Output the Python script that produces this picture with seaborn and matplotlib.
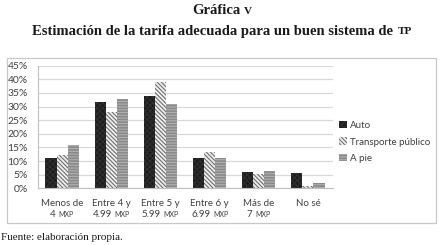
import matplotlib
matplotlib.use("Agg")
import matplotlib.pyplot as plt
import seaborn as sns
import pandas as pd
from matplotlib.patches import Rectangle
from matplotlib.offsetbox import TextArea, HPacker, VPacker, AnnotationBbox
from matplotlib.ticker import PercentFormatter, FixedLocator

# ---- data ----
cat_line1 = ["Menos de", "Entre 4 y", "Entre 5 y", "Entre 6 y", "Más de", "No sé"]
cat_line2 = ["4", "4.99", "5.99", "6.99", "7", ""]
series = ["Auto", "Transporte público", "A pie"]
auto = [0.110, 0.315, 0.340, 0.111, 0.060, 0.055]
transporte = [0.124, 0.280, 0.391, 0.134, 0.052, 0.009]
a_pie = [0.160, 0.327, 0.311, 0.113, 0.063, 0.020]
yticks = [0, 0.05, 0.10, 0.15, 0.20, 0.25, 0.30, 0.35, 0.40, 0.45]

rows = []
for vals, s in zip([auto, transporte, a_pie], series):
    for c, v in zip(cat_line1, vals):
        rows.append({"cat": c, "serie": s, "val": v})
df = pd.DataFrame(rows)

sns.set_style("white")
plt.rcParams['font.family'] = ['Lato', 'DejaVu Sans']
plt.rcParams['hatch.linewidth'] = 0.8

W, H = 444, 245
fig = plt.figure(figsize=(W / 100, H / 100), dpi=100)
ax = fig.add_axes([37.5 / W, 1 - 188.3 / H, 295 / W, 122.6 / H])

palette = {"Auto": "#262626", "Transporte público": "#ffffff", "A pie": "#8c8c8c"}
sns.barplot(data=df, x="cat", y="val", hue="serie", order=cat_line1,
            hue_order=series, palette=palette, width=0.68, ax=ax,
            legend=False, saturation=1)

styles = {
    "Auto": dict(fc="#1e1e1e", ec="#2e2e2e", hatch="xxxxxx"),
    "Transporte público": dict(fc="#efefef", ec="#6e6e6e", hatch="\\\\\\\\\\\\\\\\"),
    "A pie": dict(fc="#8a8a8a", ec="#b0b0b0", hatch="------"),
}
n = len(cat_line1)
for i, s in enumerate(series):
    for p in ax.patches[i * n:(i + 1) * n]:
        st = styles[s]
        p.set_facecolor(st["fc"])
        p.set_edgecolor(st["ec"])
        p.set_hatch(st["hatch"])
        p.set_linewidth(0)

ax.set_xlim(-0.5, n - 0.5)
ax.set_ylim(0, 0.45)
ax.set_yticks(yticks)
ax.yaxis.set_major_formatter(PercentFormatter(1.0, decimals=0))
ax.grid(axis="y", color="#d9d9d9", lw=0.9)
ax.set_axisbelow(True)
for sp in ["top", "right"]:
    ax.spines[sp].set_visible(False)
ax.spines["left"].set_color("#bfbfbf")
ax.spines["bottom"].set_color("#bfbfbf")
ax.spines["left"].set_linewidth(0.8)
ax.spines["bottom"].set_linewidth(0.8)
ax.set_xlabel("")
ax.set_ylabel("")
ax.tick_params(axis="y", labelsize=7.5, colors="#404040", length=0, pad=7)
ax.set_xticks([])
ax.xaxis.set_minor_locator(FixedLocator([i + 0.5 for i in range(-1, n)]))
ax.tick_params(axis="x", which="minor", length=3, color="#bfbfbf", width=0.8)

# category labels with small caps MXP
lab_props = dict(fontsize=7, color="#404040", fontfamily="Lato")
sc_props = dict(fontsize=5, color="#404040", fontfamily="Lato")
for i, (l1, l2) in enumerate(zip(cat_line1, cat_line2)):
    children = [TextArea(l1, textprops=lab_props)]
    if l2:
        line2 = HPacker(children=[TextArea(l2, textprops=lab_props),
                                  TextArea("MXP", textprops=sc_props)],
                        align="baseline", pad=0, sep=2)
        children.append(line2)
    box = VPacker(children=children, align="center", pad=0, sep=1.5)
    ab = AnnotationBbox(box, (i, 0), xycoords=("data", "axes fraction"),
                        xybox=(0, -7.5), boxcoords="offset points",
                        box_alignment=(0.5, 1), frameon=False)
    ax.add_artist(ab)

# legend
handles = [Rectangle((0, 0), 1, 1, facecolor=styles[s]["fc"],
                     edgecolor=styles[s]["ec"], hatch=styles[s]["hatch"], lw=0)
           for s in series]
leg = fig.legend(handles, series, loc="center left",
                 bbox_to_anchor=(339 / W, 1 - 142 / H), frameon=False,
                 fontsize=7, handlelength=0.8, handleheight=0.8,
                 handletextpad=0.3, labelspacing=0.75, borderpad=0,
                 borderaxespad=0)
for t in leg.get_texts():
    t.set_color("#404040")

# chart frame
fig.patches.append(Rectangle((7 / W, 1 - 223 / H), 429 / W, 165 / H,
                             transform=fig.transFigure, fill=False,
                             ec="#c8c8c8", lw=0.9))

# titles (serif, small caps)
tprops = dict(fontsize=10.5, fontweight="bold", color="#1a1a1a",
              fontfamily="Liberation Serif")
tsc = dict(fontsize=8, fontweight="bold", color="#1a1a1a",
           fontfamily="Liberation Serif")
t1 = HPacker(children=[TextArea("Gráfica", textprops=tprops),
                       TextArea("V", textprops=tsc)],
             align="baseline", pad=0, sep=3)
t2 = HPacker(children=[TextArea("Estimación de la tarifa adecuada para un buen sistema de",
                                textprops=tprops),
                       TextArea("TP", textprops=tsc)],
             align="baseline", pad=0, sep=3)
for box, yc in [(t1, 10), (t2, 31)]:
    ab = AnnotationBbox(box, (0.5, 1 - yc / H), xycoords="figure fraction",
                        box_alignment=(0.5, 0.5), frameon=False)
    fig.add_artist(ab)

fig.text(1 / W, 1 - 237 / H, "Fuente: elaboración propia.", fontsize=8,
         fontfamily="Liberation Serif", color="#1a1a1a", va="center", ha="left")

fig.savefig("out.png", dpi=100, facecolor="white")
